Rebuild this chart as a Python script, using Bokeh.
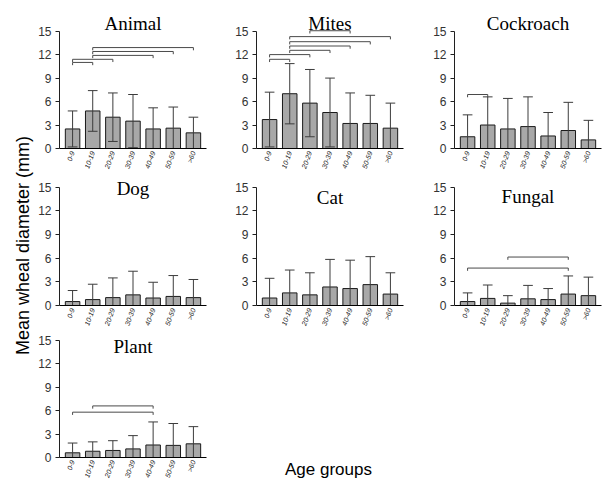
import numpy as np
from bokeh.plotting import figure
from bokeh.models import Range1d, FixedTicker, Spacer
from bokeh.layouts import row, column
from bokeh.embed import file_html
from bokeh.resources import INLINE
from bokeh.core.properties import value

# ---------------- data ----------------
age_groups = ["0-9", "10-19", "20-29", "30-39", "40-49", "50-59", ">60"]
y_ticks = [0, 3, 6, 9, 12, 15]

animal_mean = [2.5, 4.8, 4.0, 3.5, 2.5, 2.6, 2.0]
animal_sd = [2.3, 2.6, 3.1, 3.4, 2.7, 2.7, 2.0]
animal_sig = [(0, 1, 11.0), (0, 2, 11.4), (1, 4, 11.9), (1, 5, 12.4), (1, 6, 12.9)]

mites_mean = [3.7, 7.0, 5.8, 4.6, 3.2, 3.2, 2.6]
mites_sd = [3.5, 3.85, 4.3, 4.4, 3.9, 3.6, 3.2]
mites_sig = [(0, 1, 11.4), (0, 2, 12.0), (1, 3, 12.55), (1, 4, 13.1),
             (1, 5, 13.65), (1, 6, 14.3), (2, 4, 15.05)]

cockroach_mean = [1.5, 3.0, 2.5, 2.8, 1.6, 2.3, 1.1]
cockroach_sd = [2.8, 3.6, 3.9, 3.8, 3.0, 3.6, 2.5]
cockroach_sig = [(0, 1, 6.9)]

dog_mean = [0.5, 0.75, 1.0, 1.35, 0.95, 1.15, 1.0]
dog_sd = [1.4, 1.95, 2.5, 3.0, 2.0, 2.65, 2.3]
dog_sig = []

cat_mean = [0.95, 1.6, 1.35, 2.35, 2.15, 2.65, 1.45]
cat_sd = [2.5, 2.9, 2.8, 3.5, 3.6, 3.55, 2.7]
cat_sig = []

fungal_mean = [0.5, 0.9, 0.3, 0.85, 0.75, 1.45, 1.25]
fungal_sd = [1.1, 1.7, 0.95, 1.7, 1.4, 2.3, 2.35]
fungal_sig = [(0, 5, 4.75), (2, 5, 6.15)]

plant_mean = [0.6, 0.8, 0.9, 1.1, 1.6, 1.55, 1.75]
plant_sd = [1.25, 1.2, 1.25, 1.7, 2.95, 2.8, 2.2]
plant_sig = [(0, 4, 5.8), (1, 4, 6.6)]

y_label = "Mean wheal diameter (mm)"
x_label = "Age groups"

# ---------------- layout ----------------
FRAME_W = 147
COL_LEFT = [24, 30, 30]
COL_RIGHT = [20, 21, 4]
ROW_FRAME_H = [150, 134, 130]
ROW_BOTTOM = [23, 23, 22]
ROW_PX_PER_UNIT = [7.93, 8.0, 8.0]

BAR_FILL = "#a8a8a8"
LINE_COL = "#3c3c3c"


def make_panel(title, means, sds, sig, r, c, title_y):
    w = COL_LEFT[c] + FRAME_W + COL_RIGHT[c]
    h = ROW_FRAME_H[r] + ROW_BOTTOM[r]
    y_end = ROW_FRAME_H[r] / ROW_PX_PER_UNIT[r]
    p = figure(width=w, height=h, x_range=Range1d(-0.65, 6.65),
               y_range=Range1d(0, y_end), output_backend="svg",
               toolbar_location=None, min_border_left=COL_LEFT[c],
               min_border_right=COL_RIGHT[c], min_border_top=0,
               min_border_bottom=ROW_BOTTOM[r], outline_line_color=None,
               background_fill_color="white", border_fill_color="white")
    p.xgrid.visible = False
    p.ygrid.visible = False

    idx = list(range(len(age_groups)))

    xa = p.xaxis[0]
    xa.ticker = FixedTicker(ticks=idx)
    xa.major_label_overrides = {i: g for i, g in zip(idx, age_groups)}
    xa.major_label_orientation = 1.22
    xa.major_label_text_font = "Liberation Sans"
    xa.major_label_text_font_size = "7px"
    xa.major_label_text_font_style = "italic"
    xa.major_label_text_color = "#1a1a1a"
    xa.major_tick_out = 0
    xa.major_tick_in = 0
    xa.minor_tick_out = 0
    xa.minor_tick_in = 0
    xa.major_label_standoff = 3
    xa.axis_line_color = "#000000"

    ya = p.yaxis[0]
    ya.ticker = FixedTicker(ticks=y_ticks)
    ya.bounds = (0, 15)
    ya.major_tick_out = 4
    ya.major_tick_in = 0
    ya.minor_tick_out = 0
    ya.minor_tick_in = 0
    ya.major_label_standoff = 4
    ya.major_label_text_font = "Liberation Sans"
    ya.major_label_text_font_size = "12px"
    ya.major_label_text_color = "#333333"
    ya.axis_line_color = "#202020"
    ya.major_tick_line_color = "#202020"

    x = np.array(idx, dtype=float)
    m = np.array(means, dtype=float)
    s = np.array(sds, dtype=float)

    p.vbar(x=x, top=m, bottom=0, width=0.72, fill_color=BAR_FILL,
           line_color="#1a1a1a", line_width=1)

    upper = m + s
    lower = np.maximum(m - s, 0)
    p.segment(x0=x, y0=lower, x1=x, y1=upper, line_color=LINE_COL, line_width=1)
    cw = 0.24
    p.segment(x0=x - cw, y0=upper, x1=x + cw, y1=upper, line_color=LINE_COL, line_width=1)
    has_low = (m - s) > 0
    p.segment(x0=(x - cw)[has_low], y0=lower[has_low], x1=(x + cw)[has_low],
              y1=lower[has_low], line_color=LINE_COL, line_width=1)

    if sig:
        xs, ys = [], []
        for (i, j, hgt) in sig:
            xs.append([i, i, j, j])
            ys.append([hgt - 0.35, hgt, hgt, hgt - 0.35])
        p.multi_line(xs=xs, ys=ys, line_color="#4a4a4a", line_width=1)

    p.text(x=[3], y=[title_y], text=[title], text_align="center",
           text_baseline="alphabetic", text_font=value("Liberation Serif"),
           text_font_size="19px", text_color="#000000")
    return p


p_animal = make_panel("Animal", animal_mean, animal_sd, animal_sig, 0, 0, 16.0)
p_mites = make_panel("Mites", mites_mean, mites_sd, mites_sig, 0, 1, 16.0)
p_cock = make_panel("Cockroach", cockroach_mean, cockroach_sd, cockroach_sig, 0, 2, 16.0)
p_dog = make_panel("Dog", dog_mean, dog_sd, dog_sig, 1, 0, 14.9)
p_cat = make_panel("Cat", cat_mean, cat_sd, cat_sig, 1, 1, 13.75)
p_fungal = make_panel("Fungal", fungal_mean, fungal_sd, fungal_sig, 1, 2, 13.8)
p_plant = make_panel("Plant", plant_mean, plant_sd, plant_sig, 2, 0, 14.15)

# x label panel (row 3, col 2): the label is an axis title below an invisible axis
w2 = COL_LEFT[1] + FRAME_W + COL_RIGHT[1]
h3 = ROW_FRAME_H[2] + ROW_BOTTOM[2]
p_xlab = figure(width=w2, height=h3, x_range=Range1d(0, 1), y_range=Range1d(0, 1),
                output_backend="svg", toolbar_location=None, y_axis_type=None,
                min_border_left=6, min_border_right=0, min_border_top=0,
                min_border_bottom=ROW_BOTTOM[2], outline_line_color=None)
p_xlab.xgrid.visible = False
p_xlab.ygrid.visible = False
xl = p_xlab.xaxis[0]
xl.ticker = FixedTicker(ticks=[])
xl.axis_line_color = None
xl.major_tick_line_color = None
xl.minor_tick_line_color = None
xl.major_tick_out = 0
xl.major_tick_in = 0
xl.minor_tick_out = 0
xl.minor_tick_in = 0
xl.major_label_text_font_size = "0px"
xl.major_label_standoff = 0
xl.axis_label = x_label
xl.axis_label_standoff = 2
xl.axis_label_text_font = "Liberation Sans"
xl.axis_label_text_font_size = "17px"
xl.axis_label_text_font_style = "normal"
xl.axis_label_text_color = "#000000"

w3 = COL_LEFT[2] + FRAME_W + COL_RIGHT[2]
sp = Spacer(width=w3, height=h3)

# y label panel
total_h = sum(ROW_FRAME_H) + sum(ROW_BOTTOM)
p_ylab = figure(width=35, height=total_h, x_range=Range1d(0, 35), y_range=Range1d(0, total_h),
                output_backend="svg", toolbar_location=None, x_axis_type=None,
                y_axis_type=None, min_border=0, outline_line_color=None)
p_ylab.xgrid.visible = False
p_ylab.ygrid.visible = False
p_ylab.text(x=[22], y=[total_h - 245], text=[y_label], angle=np.pi / 2,
            text_align="center", text_baseline="middle",
            text_font=value("Liberation Sans"), text_font_size="18px",
            text_color="#000000")

grid = column(row(p_animal, p_mites, p_cock),
              row(p_dog, p_cat, p_fungal),
              row(p_plant, p_xlab, sp))
layout = row(p_ylab, grid)

open("out.html", "w").write(file_html(layout, INLINE))
